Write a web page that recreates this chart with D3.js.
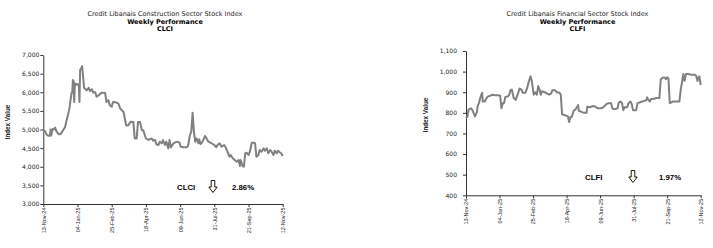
<!DOCTYPE html>
<html><head><meta charset="utf-8">
<script src="https://cdn.jsdelivr.net/npm/d3@7"></script>
<style>
html,body{margin:0;padding:0;background:#fff;}
svg{display:block;}
</style></head>
<body>
<svg id="chart" width="713" height="248"></svg>
<script>
const startDate = "2024-11-13";
const tickLabels = ["13-Nov-24","04-Jan-25","25-Feb-25","18-Apr-25","09-Jun-25","31-Jul-25","21-Sep-25","12-Nov-25"];

// CLCI: days since start date, index value
const clciDays = [0,3,5,8,10,11,12,14,16,18,20,23,26,29,33,36,38,40,41,43,44,45,46,47,48,50,52,54,55,56,58,59,60,62,66,69,71,74,76,79,81,85,89,94,96,99,101,104,106,110,114,117,122,126,129,133,137,139,142,144,147,150,152,156,160,165,167,170,172,175,
177,180,182,185,187,190,192,194,198,203,207,209,213,218,220,223,225,227,229,231,233,236,237,239,242,246,248,251,256,260,263,265,268,271,275,278,280,283,285,288,291,294,297,299,300,303,305,307,309,312,314,317,319,322,324,327,329,332,335,337,340,342,345,347,350,352,355,357,360,362,364];
const clciValues = [4980,4950,4860,4830,4830,5000,4840,5010,5000,5050,4950,4880,4870,4950,5060,5290,5420,5600,5740,5980,6000,6330,6300,5740,6240,6200,6220,6200,5740,6600,6650,6700,6520,6120,6050,6120,6030,6080,5990,6000,5880,5930,5990,5980,5740,5790,5650,5610,5740,5730,5700,5560,5470,5110,5110,5210,5200,4760,4760,5200,5200,4980,4980,4760,4720,4760,4700,4720,4600,4580,
4673,4629,4718,4584,4673,4494,4718,4521,4629,4673,4646,4539,4521,4521,4557,4852,4942,5452,4942,4673,4763,4629,4736,4611,4673,4825,4763,4673,4629,4584,4521,4584,4629,4539,4584,4494,4405,4270,4315,4226,4181,4136,4181,4020,4181,4020,4002,4360,4378,4315,4405,4646,4646,4629,4270,4315,4450,4405,4494,4432,4494,4360,4450,4405,4315,4432,4360,4432,4378,4360,4290];

// CLFI
const clfiDays = [0,2,4,8,10,12,14,17,18,20,22,25,26,29,31,34,38,41,45,50,53,55,57,59,61,65,67,69,71,74,77,81,83,86,88,92,95,97,100,102,105,108,110,112,114,116,118,122,126,129,132,134,138,141,145,147,149,154,158,160,162,164,167,170,172,174,175,
179,183,187,188,192,197,201,204,210,214,218,221,225,227,230,235,237,240,242,244,246,250,252,255,257,259,264,266,269,273,277,280,281,283,285,287,292,295,298,300,302,306,308,310,312,314,316,321,326,331,333,335,337,339,341,344,350,355,357,359,361,362,364];
const clfiValues = [775,780,817,822,813,797,783,805,833,847,872,897,855,855,867,880,883,888,885,885,883,822,847,847,877,880,888,910,913,872,863,897,918,913,897,897,922,947,977,955,888,900,888,930,913,888,905,900,893,888,893,910,910,900,897,888,793,788,783,755,780,780,810,817,827,838,810,
805,800,800,830,827,833,830,822,822,830,843,847,847,822,817,822,850,855,847,813,827,827,847,855,843,813,813,847,850,855,858,863,875,863,855,867,868,872,872,872,963,972,972,963,972,967,847,855,855,855,913,947,988,955,988,988,985,985,980,955,972,977,935];

const clciTicks = [3000,3500,4000,4500,5000,5500,6000,6500,7000];
const clfiTicks = [400,500,600,700,800,900,1000,1100];

const charts = [
  {title:"Credit Libanais Construction Sector Stock Index", sub:"Weekly Performance", code:"CLCI",
   days:clciDays, values:clciValues, yTicks:clciTicks, pct:"2.86%",
   x0:43.3, x1:282.7, yTop:55, yBot:204, titleX:165, ylabX:10, ylabY:122, tickPad:1,
   codeX:177, arrowX:213, pctX:232, annY:190},
  {title:"Credit Libanais Financial Sector Stock Index", sub:"Weekly Performance", code:"CLFI",
   days:clfiDays, values:clfiValues, yTicks:clfiTicks, pct:"1.97%",
   x0:466, x1:700.7, yTop:51, yBot:195.3, titleX:577.5, ylabX:428, ylabY:115, tickPad:6,
   codeX:585, arrowX:633, pctX:659, annY:180}
];

const svg = d3.select("#chart");
const parse = d3.timeParse("%Y-%m-%d");
const t0 = parse(startDate);
const fmt = d3.timeFormat("%d-%b-%y");
const tickDates = tickLabels.map(s => d3.timeParse("%d-%b-%y")(s));

charts.forEach(c => {
  const g = svg.append("g");
  const x = d3.scaleTime().domain([t0, tickDates[tickDates.length-1]]).range([c.x0, c.x1]);
  const y = d3.scaleLinear().domain([c.yTicks[0], c.yTicks[c.yTicks.length-1]]).range([c.yBot, c.yTop]);

  // titles
  g.append("text").attr("x", c.titleX).attr("y", 16).attr("text-anchor","middle")
    .attr("font-family","DejaVu Sans").attr("font-size","6.5px").attr("fill","#222").text(c.title);
  g.append("text").attr("x", c.titleX).attr("y", 23.5).attr("text-anchor","middle")
    .attr("font-family","DejaVu Sans").attr("font-weight","bold").attr("font-size","6.5px").attr("fill","#000").text(c.sub);
  g.append("text").attr("x", c.titleX).attr("y", 31).attr("text-anchor","middle")
    .attr("font-family","DejaVu Sans").attr("font-weight","bold").attr("font-size","6.5px").attr("fill","#000").text(c.code);

  // y axis
  const ya = g.append("g").attr("transform",`translate(${c.x0},0)`)
    .call(d3.axisLeft(y).tickValues(c.yTicks).tickFormat(d3.format(",")).tickSize(3).tickSizeOuter(0).tickPadding(c.tickPad));
  ya.selectAll("text").attr("font-family","DejaVu Sans").attr("font-size","6px").attr("fill","#222");
  ya.selectAll("line,path").attr("stroke","#333");

  // x axis
  const xa = g.append("g").attr("transform",`translate(0,${c.yBot})`)
    .call(d3.axisBottom(x).tickValues(tickDates).tickFormat(fmt).tickSize(3).tickSizeOuter(0));
  xa.selectAll("line,path").attr("stroke","#333");
  xa.selectAll("text").attr("font-family","Liberation Sans").attr("font-size","5.5px").attr("fill","#222")
    .attr("transform","rotate(-90)").attr("text-anchor","end").attr("x",-3.5).attr("y",0).attr("dy","0.35em");

  // y label
  g.append("text").attr("transform",`translate(${c.ylabX},${c.ylabY}) rotate(-90)`).attr("text-anchor","middle")
    .attr("font-family","Liberation Sans").attr("font-weight","bold").attr("font-size","6.3px").attr("fill","#222").text("Index Value");

  // line
  const pts = c.days.map((d,i) => ({date:d3.timeDay.offset(t0, d), v:c.values[i]}));
  g.append("path").datum(pts)
    .attr("fill","none").attr("stroke","#808080").attr("stroke-width",2).attr("stroke-linejoin","round")
    .attr("d", d3.line().x(p => x(p.date)).y(p => y(p.v)));

  // annotation
  g.append("text").attr("x", c.codeX).attr("y", c.annY).attr("font-family","Liberation Sans").attr("font-weight","bold")
    .attr("font-size","7.8px").attr("fill","#000").text(c.code);
  g.append("text").attr("x", c.pctX).attr("y", c.annY).attr("font-family","Liberation Sans").attr("font-weight","bold")
    .attr("font-size","7.8px").attr("fill","#000").text(c.pct);
  const ax = c.arrowX, ay = c.annY - 9.5;
  g.append("path")
    .attr("d", `M${ax-1.8},${ay} L${ax+1.8},${ay} L${ax+1.8},${ay+6.5} L${ax+4.2},${ay+6.5} L${ax},${ay+12} L${ax-4.2},${ay+6.5} L${ax-1.8},${ay+6.5} Z`)
    .attr("fill","#fffbe8").attr("stroke","#000").attr("stroke-width",0.9);
});
</script>
</body></html>
